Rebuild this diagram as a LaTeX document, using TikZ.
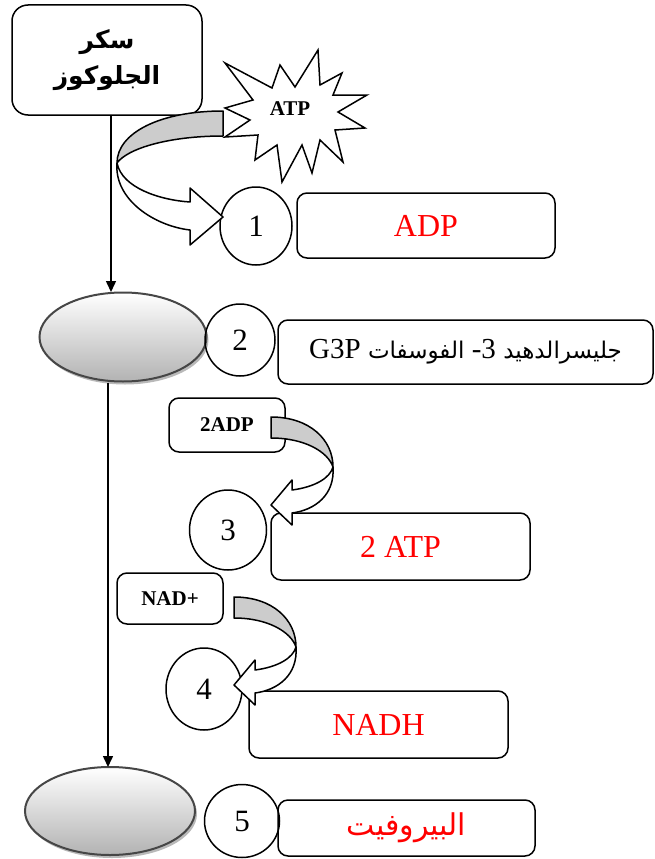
\documentclass[tikz,border=0pt]{standalone}
\usepackage{fontspec}
\setmainfont{Liberation Serif}
\newfontfamily\arabicfont[Script=Arabic]{DejaVu Sans}
\TeXXeTstate=1
\usetikzlibrary{shapes.geometric,shadows,arrows.meta}
\tikzset{
  box/.style={draw, rounded corners=10pt, line width=1.5pt, inner sep=0pt},
  num/.style={draw, ellipse, line width=1.5pt, inner sep=0pt, font=\fontsize{31}{34}\selectfont},
  oval/.style={draw=gray!55!black, ellipse, line width=2pt, top color=white, bottom color=gray!60,
    drop shadow={shadow xshift=2pt, shadow yshift=-3pt, fill=gray!55, opacity=1}},
  flow/.style={line width=1.5pt, -{Triangle[width=10pt,length=11pt]}},
  band/.style={draw, line width=1.5pt, line join=round},
  bigred/.style={text=red, font=\fontsize{32}{36}\selectfont},
  smallbold/.style={font=\bfseries\fontsize{21}{24}\selectfont},
  smallarrow/.pic={
    \filldraw[band, fill=white] (62,50) .. controls (64,78) and (44,93) .. (21,96) -- (21,108) -- (0,88) -- (21,63) -- (21,73) .. controls (44,70) and (59,61) .. (62,50) -- cycle;
    \filldraw[band, fill=gray!40] (0,0) .. controls (39,0) and (62,23) .. (62,50) .. controls (57,35) and (34,21) .. (0,21) -- cycle;
  }
}
\begin{document}
\begin{tikzpicture}[x=1pt,y=-1pt]
\useasboundingbox (0,0) rectangle (655,859);

% glucose box
\node[box, rounded corners=16pt, minimum width=190pt, minimum height=110pt, align=center,
  font=\arabicfont\bfseries\fontsize{25}{36}\selectfont] (gluc) at (107,60)
  {\beginR سكر\endR\\\beginR الجلوكوز\endR};

% ellipses
\node[oval, minimum width=167pt, minimum height=89pt] (e1) at (123,337) {};
\node[oval, minimum width=170pt, minimum height=88pt] (e2) at (110,811) {};

% flow lines
\coordinate (t1) at (111,292);
\coordinate (t2) at (108,767);
\draw[flow] (gluc.south -| t1) -- (t1);
\draw[flow] (e1.south -| t2) -- (t2);

% step 1
\draw[line width=1.5pt, fill=white, line join=miter]
  (225,63) -- (272,88) -- (280,65) -- (295,87) -- (318,50) -- (320,85) -- (342,73) -- (333,95)
  -- (367,95) -- (338,112) -- (365,128) -- (335,130) -- (343,162) -- (320,140) -- (312,173)
  -- (302,145) -- (282,182) -- (277,145) -- (255,160) -- (258,135) -- (225,137) -- (250,120)
  -- (225,108) -- (253,100) -- cycle;
\node[smallbold] (atp) at (290,109) {ATP};
\node[num, minimum width=72pt, minimum height=78pt] (c1) at (256,226) {1};
\node[box, bigred, minimum width=258pt, minimum height=65pt] (b1) at (426,225.5) {ADP};
\filldraw[band, fill=white] (117,163) .. controls (114,200) and (155,226) .. (190,230) -- (190,245)
  -- (223,217) -- (190,188) -- (190,202) .. controls (160,200) and (122,188) .. (117,163) -- cycle;
\filldraw[band, fill=gray!40] (223,111) .. controls (160,111) and (117,133) .. (117,163)
  .. controls (128,148) and (170,136) .. (223,136) -- cycle;

% step 2
\node[num, minimum width=70pt, minimum height=72pt] (c2) at (240,340) {2};
\node[box, minimum width=375pt, minimum height=64pt] (b2) at (465.5,352)
  {\arabicfont\fontsize{23}{30}\selectfont\beginR جليسرالدهيد {\rmfamily\fontsize{29}{34}\selectfont\beginL -3\endL} الفوسفات {\rmfamily\fontsize{29}{34}\selectfont G3P}\endR};

% step 3
\node[box, smallbold, minimum width=116pt, minimum height=54pt] (adp2) at (227,425) {2ADP\hspace{18pt}};
\node[num, minimum width=77pt, minimum height=80pt] (c3) at (228,530) {3};
\node[box, bigred, minimum width=259pt, minimum height=67pt] (b3) at (400.5,546.5) {2 ATP};
\pic at (271,417) {smallarrow};

% step 4
\node[box, smallbold, minimum width=106pt, minimum height=51pt] (nad) at (170,598.5) {NAD+};
\node[num, minimum width=76pt, minimum height=82pt] (c4) at (204,689) {4};
\node[box, bigred, minimum width=259pt, minimum height=67pt] (b4) at (378.5,724.5) {NADH};
\pic at (234,597) {smallarrow};

% step 5
\node[num, minimum width=75pt, minimum height=73pt] (c5) at (242,821) {5};
\node[box, minimum width=257pt, minimum height=56pt, text=red,
  font=\arabicfont\fontsize{30}{34}\selectfont] (b5) at (406.5,828) {\beginR البيروفيت\endR};
\end{tikzpicture}
\end{document}
